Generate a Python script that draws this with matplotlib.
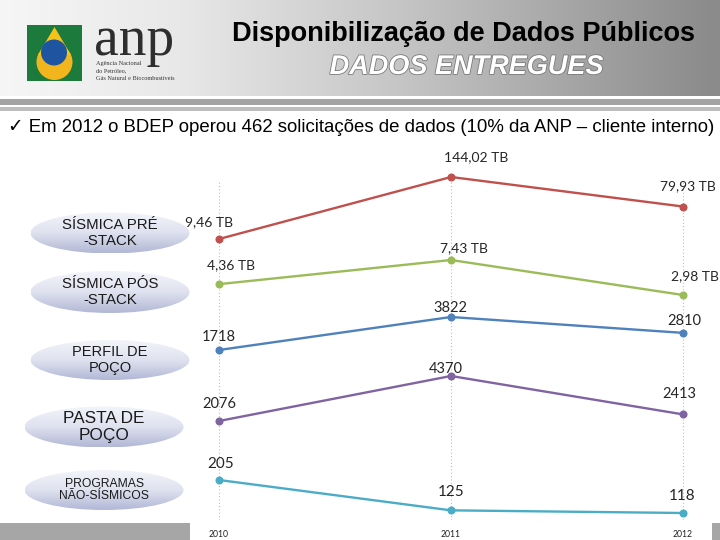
import numpy as np
import matplotlib.pyplot as plt
import matplotlib.patheffects as pe
from matplotlib.patches import Rectangle, Ellipse, Circle, Polygon
from matplotlib.colors import LinearSegmentedColormap

# --- data ---
YEARS = [2010, 2011, 2012]
CATEGORIES = [
    "SÍSMICA PRÉ\n-STACK",
    "SÍSMICA PÓS\n-STACK",
    "PERFIL DE\nPOÇO",
    "PASTA DE\nPOÇO",
    "PROGRAMAS\nNÃO-SÍSMICOS",
]
PRE_STACK_TB = [9.46, 144.02, 79.93]
POS_STACK_TB = [4.36, 7.43, 2.98]
PERFIL_POCO = [1718, 3822, 2810]
PASTA_POCO = [2076, 4370, 2413]
PROGRAMAS = [205, 125, 118]
UNITS = ["TB", "TB", "", "", ""]

TITLE = "Disponibilização de Dados Públicos"
SUBTITLE = "DADOS ENTREGUES"
NOTE = "✓ Em 2012 o BDEP operou 462 solicitações de dados (10% da ANP – cliente interno)"

# --- layout / style (pixels on a 720x540 canvas) ---
W, H = 720, 540
COLORS = ["#C0504D", "#9BBB59", "#4F81BD", "#8064A2", "#4BACC6"]
# each series gets its own vertical band: (pixel of max, pixel of min)
BANDS = [(177, 239), (260, 295), (317, 350), (376, 421), (480, 513)]
# label offsets in pixels (dx, dy up) for each point
OFFSETS = [
    [(-10, 17), (25, 20), (5, 20)],
    [(12, 19), (13, 12), (12, 19)],
    [(0, 13), (-1, 9), (1, 12)],
    [(0, 17), (-5, 7), (-4, 20)],
    [(2, 16), (0, 18), (-1, 17)],
]
LABEL_SIZES = [10, 10, 10.5, 10.5, 11]
# ellipse centre x, centre y, width, height, label font size
ELLIPSES = [(110, 233, 159, 41, 10.8), (110, 292, 159, 42, 10.8),
            (110, 360, 159, 40, 10.5), (104, 427, 159, 41, 12.4),
            (104, 490, 159, 40, 8.7)]
CHART_X = (190, 712)
XLIM = (2009.875, 2012.125)

SANS = ["Liberation Sans", "DejaVu Sans"]


def px_axes(fig, x0, y0, x1, y1):
    return fig.add_axes([x0 / W, 1 - y1 / H, (x1 - x0) / W, (y1 - y0) / H])


def fmt(v, unit):
    if unit:
        return f"{v:.2f}".replace(".", ",") + " " + unit
    return str(int(v))


fig = plt.figure(figsize=(7.2, 5.4), dpi=100)
fig.patch.set_facecolor("white")

bg = fig.add_axes([0, 0, 1, 1])
bg.axis("off")

# header gradient
header_cmap = LinearSegmentedColormap.from_list(
    "hdr", [(0, "#f6f6f6"), (0.25, "#e8e8e8"), (0.55, "#c6c6c6"), (1, "#8a8a8a")])
bg.imshow(np.linspace(0, 1, 256)[None, :], extent=(0, W, 96, 0),
          cmap=header_cmap, aspect="auto", zorder=0)
bg.add_patch(Rectangle((0, 99), W, 6, color="#a3a3a3", lw=0, zorder=1))
bg.add_patch(Rectangle((0, 106.5), W, 4, color="#bdbdbd", lw=0, zorder=1))

# logo
bg.add_patch(Rectangle((27, 25), 55, 56, color="#1b7a3c", lw=0, zorder=2))
bg.add_patch(Circle((54.5, 62), 18, color="#f2b51e", lw=0, zorder=3))
bg.add_patch(Polygon([(54.5, 27), (38, 55), (71, 55)], closed=True,
                     color="#f5c21a", lw=0, zorder=3))
bg.add_patch(Circle((54, 52.5), 13, color="#1f55a0", lw=0, zorder=4))
bg.text(94, 55, "anp", family="Liberation Serif", fontsize=40,
        color="#2e2e2e", va="baseline", ha="left", zorder=4)
for i, line in enumerate(["Agência Nacional", "do Petróleo,",
                          "Gás Natural e Biocombustíveis"]):
    bg.text(96, 64 + i * 7, line, family="Liberation Serif", fontsize=4.5,
            color="#333333", va="center", ha="left", zorder=4)

# titles
bg.text(464, 34, TITLE, family=SANS, fontsize=19.5, fontweight="bold",
        ha="center", va="center", color="black", zorder=5)
bg.text(467, 67, SUBTITLE, family=SANS, fontsize=19.5, fontweight="bold",
        fontstyle="italic", ha="center", va="center", color="white", zorder=5,
        path_effects=[pe.withStroke(linewidth=1.2, foreground="#7a7a7a")])
bg.text(8, 128, NOTE, family=SANS, fontsize=13.4, ha="left", va="center",
        color="black", zorder=5)

# category ellipses with gradient fill
ell_cmap = LinearSegmentedColormap.from_list("ell", ["#f3f4fa", "#dfe2ef", "#b2b8d6"])
for (cx, cy, ew, eh, fs), label in zip(ELLIPSES, CATEGORIES):
    patch = Ellipse((cx, cy), ew, eh, facecolor="none", edgecolor="none", zorder=2)
    bg.add_patch(patch)
    im = bg.imshow(np.linspace(0, 1, 64)[:, None],
                   extent=(cx - ew / 2, cx + ew / 2, cy + eh / 2, cy - eh / 2),
                   cmap=ell_cmap, aspect="auto", zorder=2)
    im.set_clip_path(patch)
    bg.text(cx, cy, label, family=SANS, fontsize=fs, ha="center", va="center",
            color="#1a1a1a", linespacing=1.1, zorder=3)

# bottom grey bars
bg.add_patch(Rectangle((0, 523), 190, 17, color="#a6a6a6", lw=0, zorder=1))
bg.add_patch(Rectangle((712, 523), 8, 17, color="#a6a6a6", lw=0, zorder=1))

bg.set_xlim(0, W)
bg.set_ylim(H, 0)

# grid axes with dotted year lines and tick labels
grid = px_axes(fig, CHART_X[0], 180, CHART_X[1], 520)
grid.set_xlim(*XLIM)
grid.set_ylim(0, 1)
grid.axis("off")
for yr in YEARS:
    grid.axvline(yr, color="#bdbdbd", lw=0.8, ls=(0, (1, 2)))
    grid.text(yr, -0.03, str(yr), fontsize=6.2, family="Lato",
              ha="center", va="top", color="#222222",
              transform=grid.get_xaxis_transform())

# series, one band each
series = [PRE_STACK_TB, POS_STACK_TB, PERFIL_POCO, PASTA_POCO, PROGRAMAS]
for vals, unit, color, (top, bot), offs, lfs in zip(
        series, UNITS, COLORS, BANDS, OFFSETS, LABEL_SIZES):
    ax = px_axes(fig, CHART_X[0], top, CHART_X[1], bot)
    ax.set_xlim(*XLIM)
    ax.set_ylim(min(vals), max(vals))
    ax.axis("off")
    ax.patch.set_alpha(0)
    ax.plot(YEARS, vals, color=color, lw=1.7, marker="o", ms=4.8,
            clip_on=False)
    for x, v, (dx, dy) in zip(YEARS, vals, offs):
        ax.annotate(fmt(v, unit), (x, v), xytext=(dx, dy),
                    textcoords="offset pixels", ha="center", va="center",
                    family="Lato", fontsize=lfs, color="#262626",
                    annotation_clip=False)

fig.savefig("out.png", dpi=100)
